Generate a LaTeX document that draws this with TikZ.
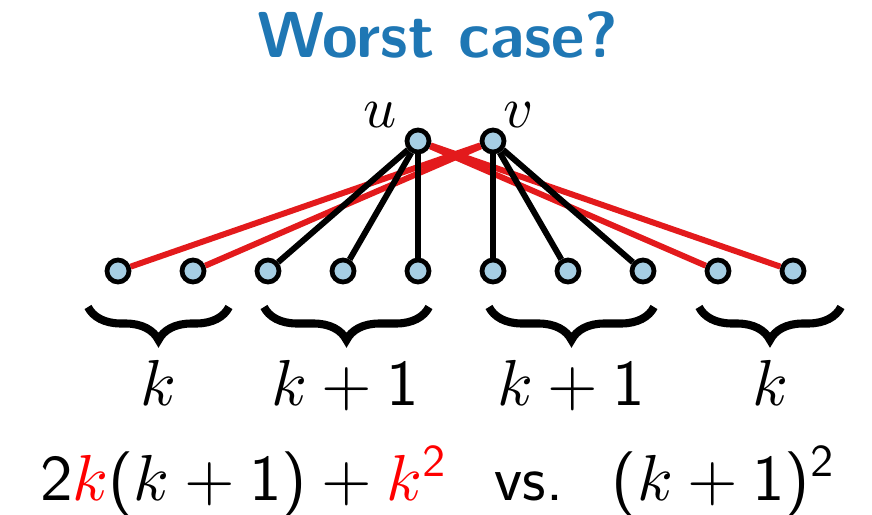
\documentclass[tikz,border=0pt]{standalone}
\usepackage{amsmath,amssymb}
\usepackage{xcolor}
\usepackage{tikz}
\usetikzlibrary{decorations.pathreplacing}
% scalable cm math fonts, sans digits as on the slides
\DeclareFontShape{OML}{cmm}{m}{it}{<->cmmi10}{}
\DeclareFontShape{OMS}{cmsy}{m}{n}{<->cmsy10}{}
\DeclareFontShape{OMX}{cmex}{m}{n}{<->cmex10}{}
\DeclareFontFamily{OT1}{cmss}{}
\DeclareFontShape{OT1}{cmss}{m}{n}{<->cmss10}{}
\DeclareSymbolFont{operators}{OT1}{cmss}{m}{n}
\definecolor{titleblue}{RGB}{31,119,180}
\definecolor{edgered}{RGB}{227,26,28}
\definecolor{vertfill}{RGB}{166,206,227}

\begin{document}
\begin{tikzpicture}[x=0.02cm, y=-0.02cm,
  vert/.style={circle, draw, fill=vertfill, line width=2.7pt,
               minimum size=0.44cm, inner sep=0pt},
  ed/.style={line width=3.4pt},
  redge/.style={ed, edgered},
  grp/.style={decorate, decoration={brace, mirror, amplitude=0.66cm},
              line width=4.6pt},
  big/.style={font=\fontsize{37}{44}\selectfont, anchor=base, inner sep=0pt},
  lbl/.style={font=\fontsize{33}{40}\selectfont, anchor=base, inner sep=0pt}
]
\useasboundingbox (0,0) rectangle (872,514);

% --- title ---------------------------------------------------------------
\node[big, font=\fontsize{37}{44}\selectfont\sffamily\bfseries, text=titleblue]
  (title) at (438,57) {Worst case?};

% --- vertices ------------------------------------------------------------
\node[vert] (u) at (418,141) {};
\node[vert] (v) at (493,141) {};
\node[lbl] (ul) at (380,127) {$u$};
\node[lbl] (vl) at (519,127) {$v$};

\node[vert] (b1)  at (118,271) {};
\node[vert] (b2)  at (193,271) {};
\node[vert] (b3)  at (268,271) {};
\node[vert] (b4)  at (343,271) {};
\node[vert] (b5)  at (418,271) {};
\node[vert] (b6)  at (493,271) {};
\node[vert] (b7)  at (568,271) {};
\node[vert] (b8)  at (643,271) {};
\node[vert] (b9)  at (718,271) {};
\node[vert] (b10) at (793,271) {};

% --- edges (red ones below) ----------------------------------------------
\draw[redge] (v) -- (b1);
\draw[redge] (v) -- (b2);
\draw[redge] (u) -- (b9);
\draw[redge] (u) -- (b10);
\draw[ed] (u) -- (b3);
\draw[ed] (u) -- (b4);
\draw[ed] (u) -- (b5);
\draw[ed] (v) -- (b6);
\draw[ed] (v) -- (b7);
\draw[ed] (v) -- (b8);

% --- groups --------------------------------------------------------------
\draw[grp] (88,307) -- (229,307);
\draw[grp] (264,307) -- (429,307);
\draw[grp] (489,307) -- (654,307);
\draw[grp] (699,307) -- (841,307);
\node[big] (g1) at (158,405) {$k$};
\node[big] (g2) at (345,405) {$k+1$};
\node[big] (g3) at (571,405) {$k+1$};
\node[big] (g4) at (770,405) {$k$};

% --- count ---------------------------------------------------------------
\node[big] (cmp) at (437,500)
  {$2{\color{red}k}(k+1)+{\color{red}k^2}$\hspace{0.75em}\textsf{vs.}\hspace{0.75em}$(k+1)^2$};
\end{tikzpicture}
\end{document}
